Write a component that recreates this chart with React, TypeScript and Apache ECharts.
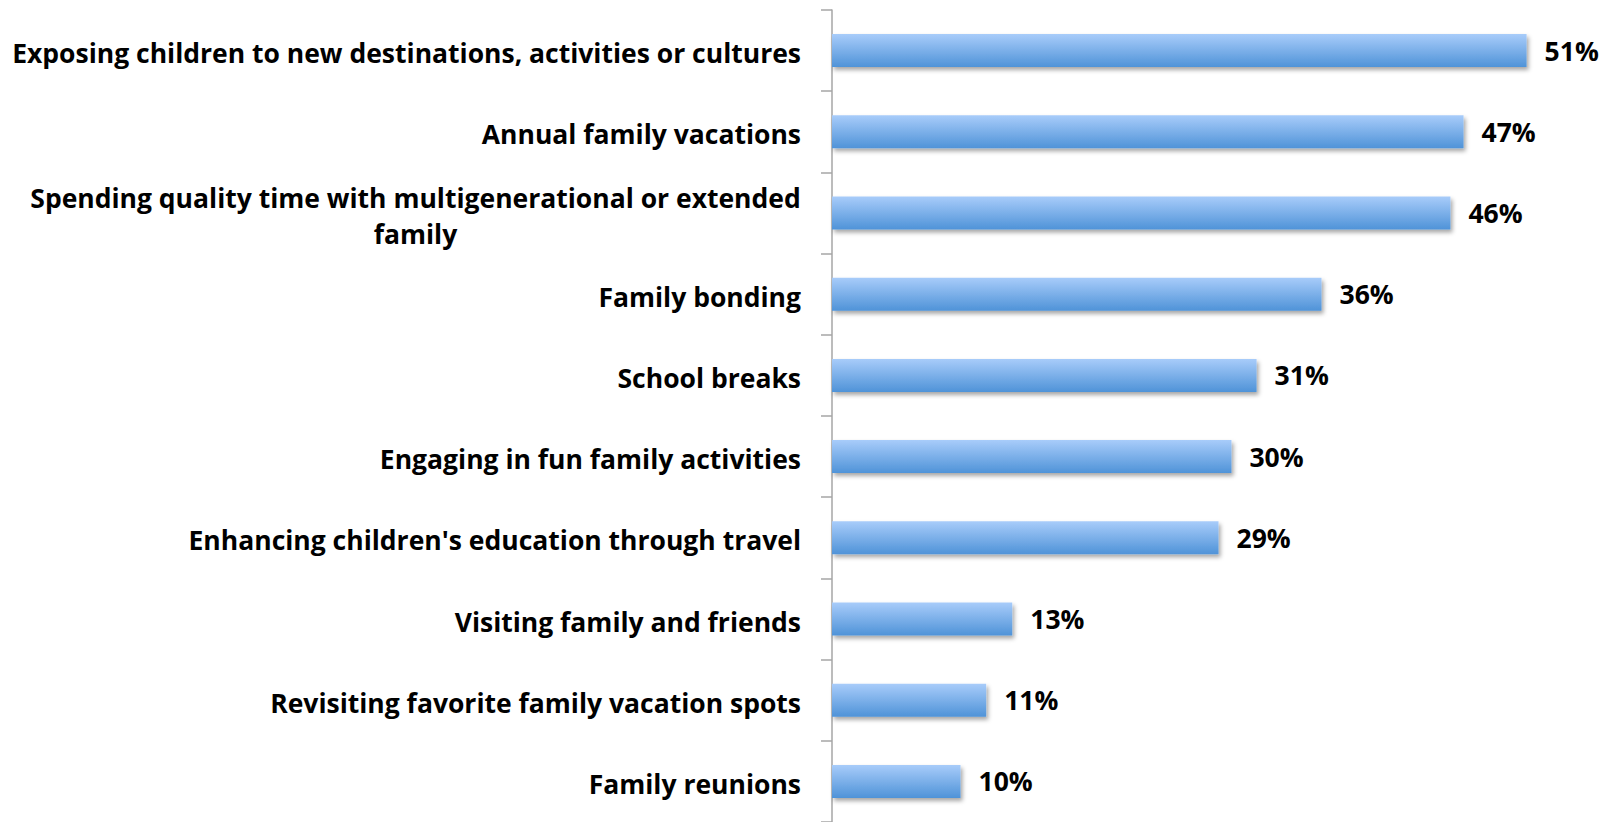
import React, { useEffect, useRef } from "react";
import * as echarts from "echarts";

const categories: string[] = [
  "Exposing children to new destinations, activities or cultures",
  "Annual family vacations",
  "Spending quality time with multigenerational or extended\nfamily",
  "Family bonding",
  "School breaks",
  "Engaging in fun family activities",
  "Enhancing children's education through travel",
  "Visiting family and friends",
  "Revisiting favorite family vacation spots",
  "Family reunions",
];

const values: number[] = [51.45, 46.78, 45.81, 36.26, 31.45, 29.59, 28.63, 13.35, 11.42, 9.52];

const FONT = "Open Sans";
const FONT_SIZE = 26.5;

function measure(text: string): number {
  const c = document.createElement("canvas");
  const ctx = c.getContext("2d");
  if (!ctx) return 700;
  ctx.font = `bold ${FONT_SIZE}px "${FONT}"`;
  return ctx.measureText(text).width;
}

export default function App() {
  const ref = useRef<HTMLDivElement>(null);
  useEffect(() => {
    if (!ref.current) return;
    const chart = echarts.init(ref.current, undefined, { renderer: "svg" });
    const wrapWidth = Math.ceil(measure(categories[2].split("\n")[0]));
    const option: any = {
      animation: false,
      backgroundColor: "#ffffff",
      grid: { left: 832, top: 10, width: 756, height: 816, containLabel: false },
      xAxis: {
        type: "value",
        min: 0,
        max: 56,
        show: false,
        splitLine: { show: false },
      },
      yAxis: {
        type: "category",
        inverse: true,
        data: categories,
        axisLine: { show: true, lineStyle: { color: "#a6a6a6", width: 1.5 } },
        axisTick: { show: true, length: 11, lineStyle: { color: "#a6a6a6", width: 1.5 } },
        axisLabel: {
          margin: 31,
          padding: [5, 0, 0, 0],
          color: "#000000",
          fontFamily: FONT,
          fontWeight: "bold",
          fontSize: FONT_SIZE,
          lineHeight: 36,
          formatter: (v: string) => {
            if (v.indexOf("\n") < 0) return v;
            return v.split("\n").map((l) => `{c|${l}}`).join("\n");
          },
          rich: {
            c: {
              color: "#000000",
              fontFamily: FONT,
              fontWeight: "bold",
              fontSize: FONT_SIZE,
              lineHeight: 36,
              width: wrapWidth,
              align: "center",
            },
          },
        },
      },
      series: [
        {
          type: "bar",
          data: values,
          barWidth: 33,
          itemStyle: {
            color: new echarts.graphic.LinearGradient(0, 0, 0, 1, [
              { offset: 0, color: "#a8ccfa" },
              { offset: 1, color: "#4f93d8" },
            ]),
            shadowColor: "rgba(0,0,0,0.35)",
            shadowBlur: 4,
            shadowOffsetX: 2,
            shadowOffsetY: 3,
          },
          label: {
            show: true,
            position: "right",
            distance: 18,
            padding: [4, 0, 0, 0],
            color: "#000000",
            fontFamily: FONT,
            fontWeight: "bold",
            fontSize: FONT_SIZE,
            formatter: (p: any) => `${Math.round(p.value)}%`,
          },
        },
      ],
    };
    chart.setOption(option);
    return () => chart.dispose();
  }, []);
  return (
    <div
      ref={ref}
      style={{ position: "absolute", left: 0, top: 0, width: 1616, height: 822 }}
    />
  );
}
